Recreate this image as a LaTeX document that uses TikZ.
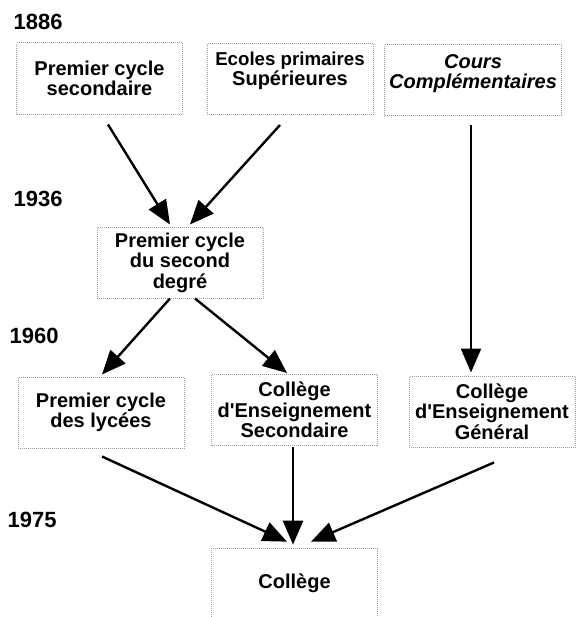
\documentclass[tikz,border=0pt]{standalone}
\usepackage{fontspec}
\setmainfont{Liberation Sans}
\usetikzlibrary{arrows.meta,calc}

\tikzset{
  stage/.style={draw=gray!75, densely dotted, line width=0.5pt,
    minimum width=124.5pt, minimum height=53.5pt, align=center,
    font=\fontsize{15}{15.3}\selectfont\bfseries},
  year/.style={anchor=west, font=\fontsize{16.5}{17}\selectfont\bfseries},
  flow/.style={line width=1.8pt, -{Triangle[length=18pt,width=15pt]}}
}

\begin{document}
\begin{tikzpicture}[x=0.75pt, y=-0.75pt]
\useasboundingbox (0,0) rectangle (576,617);
% Years
    \node[year] (y1886) at (9,22) {1886};
    \node[year] (y1936) at (9,199) {1936};
    \node[year] (y1960) at (5,336) {1960};
    \node[year] (y1975) at (3,520) {1975};
% Boxes
    \node[stage] (psec) at (99.5,78.5) {Premier cycle\\secondaire};
    \node[stage, text depth=15pt] (eps) at (290,79)
        {\fontsize{14}{14.5}\selectfont Ecoles primaires\\Supérieures};
    \node[stage, text depth=13pt] (cc) at (473,80)
        {\itshape Cours\\\itshape Complémentaires};
    \node[stage] (pcsd) at (180,262.5) {Premier cycle\\du second\\degré};
    \node[stage] (pcl) at (101,412.5) {Premier cycle\\des lycées};
    \node[stage] (ces) at (294.5,410)
        {Collège\\d\textquotesingle Enseignement\\Secondaire};
    \node[stage] (ceg) at (492,411.5)
        {Collège\\d\textquotesingle Enseignement\\Général};
    \node[stage, minimum height=52.5pt] (college) at (294.5,583) {Collège};
% Arrows
    \coordinate (ccout) at ($(cc.south)+(-2,9)$);
    \draw[flow] ($(psec.south)+(8.5,10)$) -- ($(pcsd.north)+(-10,-2)$);
    \draw[flow] ($(eps.south)+(-10,10)$) -- ($(pcsd.north)+(10,-2)$);
    \draw[flow] (ccout) -- ($(ccout |- ceg.north)+(0,-3)$);
    \draw[flow] ($(pcsd.south)+(-10,0)$) -- ($(pcl.north)+(1,-2)$);
    \draw[flow] ($(pcsd.south)+(15,0)$) -- ($(ces.north)+(-7.5,-1)$);
    \draw[flow] ($(pcl.south)+(1,8)$) -- ($(college.north)+(-7.5,-6)$);
    \draw[flow] ($(ces.south)+(-1.5,1)$) -- ($(college.north)+(-1.5,-3)$);
    \draw[flow] ($(ceg.south)+(2,15)$) -- ($(college.north)+(16.5,-6)$);
\end{tikzpicture}
\end{document}
